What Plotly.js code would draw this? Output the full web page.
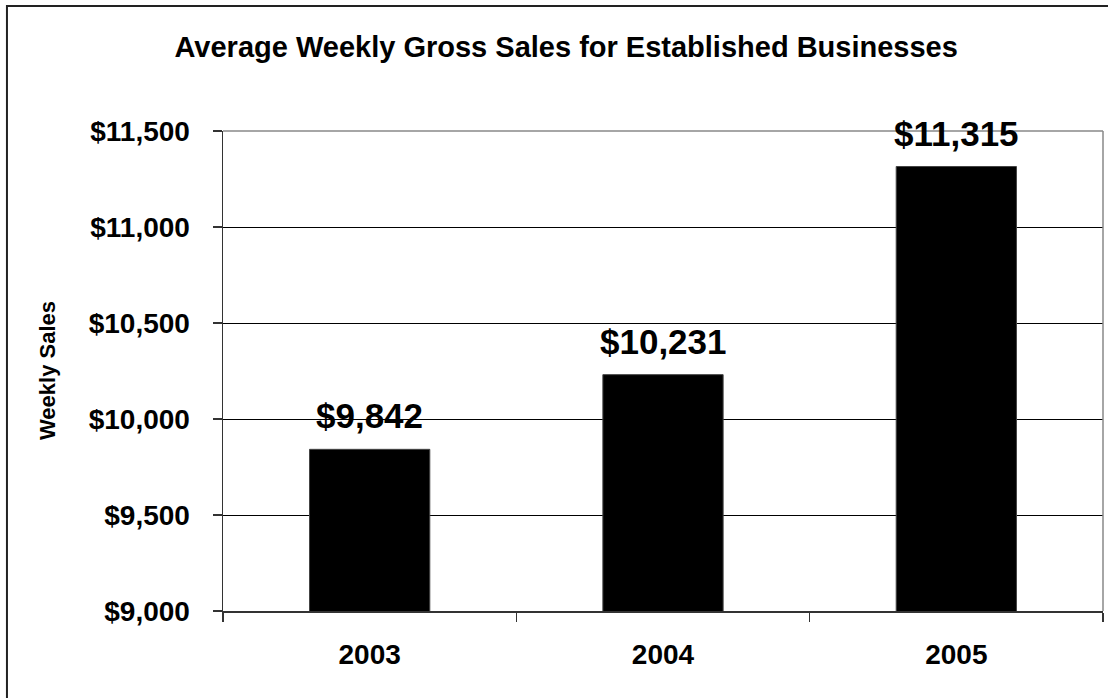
<!DOCTYPE html>
<html>
<head>
<meta charset="utf-8">
<script src="https://cdn.plot.ly/plotly-3.0.1.min.js"></script>
<style>html,body{margin:0;padding:0;background:#fff;}#chart{width:1108px;height:698px;}</style>
</head>
<body>
<div id="chart"></div>
<script>
var years = ["2003", "2004", "2005"];
var sales = [9842, 10231, 11315];
var valueLabels = ["$9,842", "$10,231", "$11,315"];
var yTickVals = [9000, 9500, 10000, 10500, 11000, 11500];
var yTickText = ["$9,000", "$9,500", "$10,000", "$10,500", "$11,000", "$11,500"];

var FONT = 'Arial, "Liberation Sans", sans-serif';

var trace = {
  type: 'bar',
  x: years,
  y: sales,
  marker: {color: '#000000', line: {color: '#444444', width: 1}},
  width: 0.41,
  hoverinfo: 'skip'
};

var annotations = years.map(function (yr, i) {
  return {
    x: i, y: sales[i], xref: 'x', yref: 'y',
    text: '<b>' + valueLabels[i] + '</b>',
    showarrow: false, xanchor: 'center', yanchor: 'bottom', yshift: 12,
    font: {family: FONT, size: 35, color: '#000'}
  };
});
annotations.push({
  xref: 'paper', yref: 'paper', x: -0.2, y: 0.5,
  text: '<b>Weekly Sales</b>', textangle: -90, showarrow: false,
  xanchor: 'center', yanchor: 'middle',
  font: {family: FONT, size: 22, color: '#000'}
});

var layout = {
  width: 1108, height: 698,
  margin: {l: 223, r: 5, t: 131, b: 87},
  paper_bgcolor: '#ffffff', plot_bgcolor: '#ffffff',
  showlegend: false,
  title: {
    text: '<b>Average Weekly Gross Sales for Established Businesses</b>',
    xref: 'container', yref: 'container', x: 0.511, xanchor: 'center',
    y: 0.933, yanchor: 'middle',
    font: {family: FONT, size: 29, color: '#000'}
  },
  xaxis: {
    type: 'category',
    categoryorder: 'array', categoryarray: years,
    range: [-0.5, 2.5], autorange: false,
    showgrid: false,
    showline: true, linecolor: '#333', linewidth: 1.5,
    ticks: 'outside', tickson: 'boundaries', ticklen: 9, tickcolor: '#333', tickwidth: 1.5,
    ticklabelstandoff: 18, tickangle: 0,
    tickfont: {family: FONT, size: 28, color: '#000', weight: 'bold'},
    fixedrange: true
  },
  yaxis: {
    range: [9000, 11500], autorange: false,
    tickvals: yTickVals, ticktext: yTickText,
    showgrid: true, gridcolor: '#000', gridwidth: 1,
    showline: true, linecolor: '#333', linewidth: 1.5,
    ticks: 'outside', ticklen: 9, tickcolor: '#333', tickwidth: 1.5,
    ticklabelstandoff: 17,
    tickfont: {family: FONT, size: 28, color: '#000', weight: 'bold'},
    zeroline: false,
    fixedrange: true
  },
  annotations: annotations,
  shapes: [
    {type: 'line', xref: 'paper', yref: 'paper', x0: 0, x1: 1, y0: 1, y1: 1, line: {color: '#888', width: 1.5}, layer: 'above'},
    {type: 'line', xref: 'paper', yref: 'paper', x0: 1, x1: 1, y0: 0, y1: 1, line: {color: '#888', width: 1.5}, layer: 'above'},
    {type: 'rect', xref: 'paper', yref: 'paper', x0: -0.2455, x1: 1.05, y0: -0.3, y1: 1.2604, line: {color: '#222', width: 2}, fillcolor: 'rgba(0,0,0,0)', layer: 'above'}
  ]
};

Plotly.newPlot('chart', [trace], layout, {displayModeBar: false, staticPlot: true});
</script>
</body>
</html>
